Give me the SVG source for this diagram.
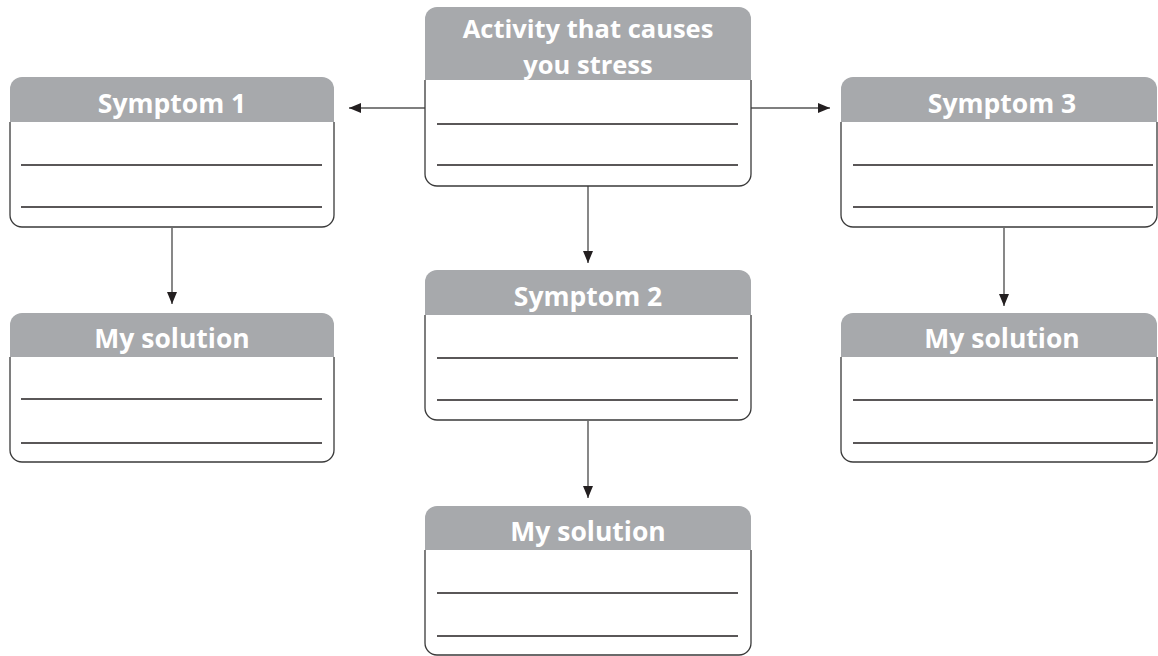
<svg xmlns="http://www.w3.org/2000/svg" width="1158" height="656" viewBox="0 0 1158 656">
<style>
.hdr{fill:#a7a9ac}
.body{fill:#fff;stroke:#3a3a3a;stroke-width:1.3}
.rule{stroke:#231f20;stroke-width:1.4}
.title{font-family:"Open Sans","Liberation Sans",sans-serif;font-weight:700;font-size:26.5px;fill:#fff;text-anchor:middle}
.conn{stroke:#555;stroke-width:1.4;fill:none;marker-end:url(#arr)}
</style>
<defs>
<marker id="arr" markerUnits="userSpaceOnUse" markerWidth="13" markerHeight="11" refX="12" refY="5" orient="auto">
<path d="M0,0 L12,5 L0,10 Z" fill="#231f20"/>
</marker>
</defs>
<rect width="1158" height="656" fill="#fff"/>
<g id="connectors">
<line class="conn" x1="425" y1="108" x2="349" y2="108"/>
<line class="conn" x1="751" y1="108" x2="830" y2="108"/>
<line class="conn" x1="588" y1="186" x2="588" y2="263"/>
<line class="conn" x1="588" y1="421" x2="588" y2="498"/>
<line class="conn" x1="172" y1="228" x2="172" y2="304"/>
<line class="conn" x1="1004" y1="228" x2="1004" y2="306"/>
</g>
<g id="activity">
<path class="hdr" d="M425,80 V19 A12,12 0 0 1 437,7 H739 A12,12 0 0 1 751,19 V80 Z"/>
<path class="body" d="M425,80 V174 A12,12 0 0 0 437,186 H739 A12,12 0 0 0 751,174 V80"/>
<line class="rule" x1="437" y1="124" x2="738" y2="124"/>
<line class="rule" x1="437" y1="165" x2="738" y2="165"/>
<text class="title" style="font-size:25.5px" x="588" y="38">Activity that causes</text>
<text class="title" style="font-size:25.5px" x="588" y="73.5">you stress</text>
</g>
<g id="symptom1">
<path class="hdr" d="M10,122 V89 A12,12 0 0 1 22,77 H322 A12,12 0 0 1 334,89 V122 Z"/>
<path class="body" d="M10,122 V215 A12,12 0 0 0 22,227 H322 A12,12 0 0 0 334,215 V122"/>
<line class="rule" x1="21" y1="165" x2="322" y2="165"/>
<line class="rule" x1="21" y1="207" x2="322" y2="207"/>
<text class="title" x="172" y="113">Symptom 1</text>
</g>
<g id="symptom2">
<path class="hdr" d="M425,315 V282 A12,12 0 0 1 437,270 H739 A12,12 0 0 1 751,282 V315 Z"/>
<path class="body" d="M425,315 V408 A12,12 0 0 0 437,420 H739 A12,12 0 0 0 751,408 V315"/>
<line class="rule" x1="437" y1="358" x2="738" y2="358"/>
<line class="rule" x1="437" y1="400" x2="738" y2="400"/>
<text class="title" x="588" y="306">Symptom 2</text>
</g>
<g id="symptom3">
<path class="hdr" d="M841,122 V89 A12,12 0 0 1 853,77 H1145 A12,12 0 0 1 1157,89 V122 Z"/>
<path class="body" d="M841,122 V215 A12,12 0 0 0 853,227 H1145 A12,12 0 0 0 1157,215 V122"/>
<line class="rule" x1="853" y1="165" x2="1153" y2="165"/>
<line class="rule" x1="853" y1="207" x2="1153" y2="207"/>
<text class="title" x="1002" y="113">Symptom 3</text>
</g>
<g id="solution1">
<path class="hdr" d="M10,357 V325 A12,12 0 0 1 22,313 H322 A12,12 0 0 1 334,325 V357 Z"/>
<path class="body" d="M10,357 V450 A12,12 0 0 0 22,462 H322 A12,12 0 0 0 334,450 V357"/>
<line class="rule" x1="21" y1="399" x2="322" y2="399"/>
<line class="rule" x1="21" y1="443" x2="322" y2="443"/>
<text class="title" x="172" y="348">My solution</text>
</g>
<g id="solution2">
<path class="hdr" d="M425,550 V518 A12,12 0 0 1 437,506 H739 A12,12 0 0 1 751,518 V550 Z"/>
<path class="body" d="M425,550 V643 A12,12 0 0 0 437,655 H739 A12,12 0 0 0 751,643 V550"/>
<line class="rule" x1="437" y1="593" x2="738" y2="593"/>
<line class="rule" x1="437" y1="636" x2="738" y2="636"/>
<text class="title" x="588" y="541">My solution</text>
</g>
<g id="solution3">
<path class="hdr" d="M841,357 V325 A12,12 0 0 1 853,313 H1145 A12,12 0 0 1 1157,325 V357 Z"/>
<path class="body" d="M841,357 V450 A12,12 0 0 0 853,462 H1145 A12,12 0 0 0 1157,450 V357"/>
<line class="rule" x1="853" y1="400" x2="1153" y2="400"/>
<line class="rule" x1="853" y1="443" x2="1153" y2="443"/>
<text class="title" x="1002" y="348">My solution</text>
</g>
</svg>
